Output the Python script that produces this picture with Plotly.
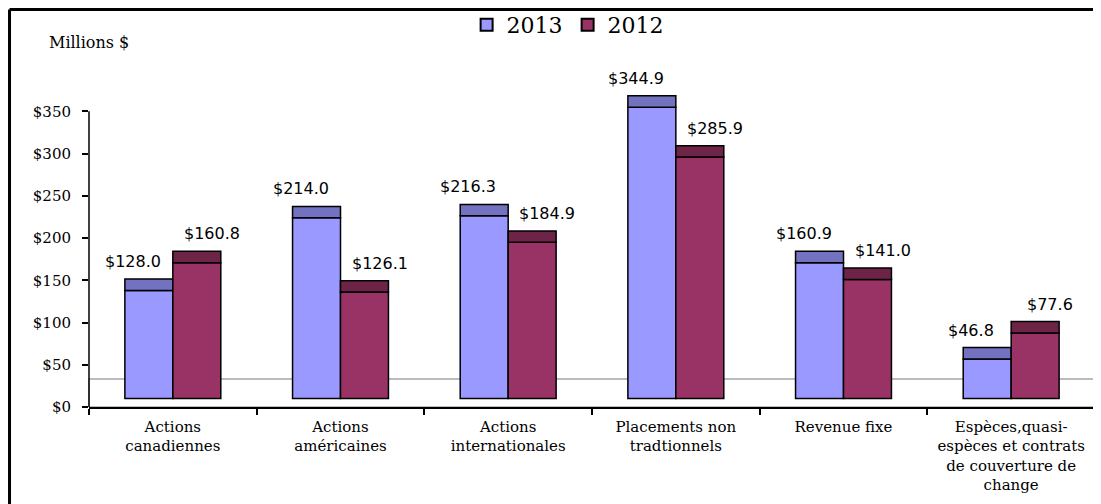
import plotly.graph_objects as go

categories = ["Actions<br>canadiennes", "Actions<br>américaines", "Actions<br>internationales",
              "Placements non<br>tradtionnels", "Revenue fixe",
              "Espèces,quasi-<br>espèces et contrats<br>de couverture de<br>change"]
values_2013 = [128.0, 214.0, 216.3, 344.9, 160.9, 46.8]
values_2012 = [160.8, 126.1, 184.9, 285.9, 141.0, 77.6]
y_tick_vals = [0, 50, 100, 150, 200, 250, 300, 350]
y_tick_text = ["$0", "$50", "$100", "$150", "$200", "$250", "$300", "$350"]

# 3D-look styling parameters (not data)
FLOOR_BASE = 10      # bars start slightly above zero (3D floor)
TOP_DEPTH = 13.5     # thickness of the shaded top face
FLOOR_DEPTH = 33

C13, C13_TOP = "#9999FF", "#7272C0"
C12, C12_TOP = "#993366", "#6E2447"
SERIF = "DejaVu Serif"

fig = go.Figure()
for name, vals, front, top, grp in [("2013", values_2013, C13, C13_TOP, "a"),
                                    ("2012", values_2012, C12, C12_TOP, "b")]:
    fig.add_trace(go.Bar(
        name=name, x=categories, y=vals, base=[FLOOR_BASE] * len(vals),
        offsetgroup=grp, marker=dict(color=front, line=dict(color="black", width=1.5)),
        cliponaxis=False, hoverinfo="skip"))
    fig.add_trace(go.Bar(
        name=name + " top", x=categories, y=[TOP_DEPTH] * len(vals),
        base=[FLOOR_BASE + v for v in vals], offsetgroup=grp, showlegend=False,
        marker=dict(color=top, line=dict(color="black", width=1.5)),
        cliponaxis=False, hoverinfo="skip"))

annotations = []
for vals, shift in [(values_2013, -40), (values_2012, 39)]:
    for cat, v in zip(categories, vals):
        annotations.append(dict(
            x=cat, y=FLOOR_BASE + v + TOP_DEPTH, xref="x", yref="y",
            text=f"${v:.1f}", showarrow=False, xshift=shift, yshift=6,
            yanchor="bottom", font=dict(family="DejaVu Sans", size=16, color="black")))

annotations.append(dict(x=-0.0417, y=1.134, xref="paper", yref="paper", text="Millions $",
                        showarrow=False, xanchor="left", yanchor="middle",
                        font=dict(family=SERIF, size=16, color="black")))

shapes = [
    # 3D floor
    dict(type="rect", xref="x domain", yref="y", x0=0, x1=1, y0=0, y1=FLOOR_DEPTH,
         line=dict(color="#A6A6A6", width=1.5), fillcolor="white", layer="below"),
    # y axis line ending at $350
    dict(type="line", xref="x domain", yref="y", x0=0, x1=0, y0=0, y1=350,
         line=dict(color="black", width=1.5)),
    # outer frame (left and top visible)
    dict(type="line", xref="paper", yref="paper", x0=-0.079, x1=-0.079, y0=1.238, y1=-0.4,
         line=dict(color="black", width=3)),
    dict(type="line", xref="paper", yref="paper", x0=-0.079, x1=1.1, y0=1.238, y1=1.238,
         line=dict(color="black", width=3)),
]

fig.update_layout(
    width=1093, height=496,
    margin=dict(l=81, r=6, t=78, b=97, autoexpand=False),
    paper_bgcolor="white", plot_bgcolor="white",
    barmode="group", bargap=0.428, bargroupgap=0,
    font=dict(family=SERIF, size=15, color="black"),
    showlegend=True,
    legend=dict(orientation="h", x=0.512, y=0.966, xref="container", yref="container",
                xanchor="center", yanchor="middle",
                font=dict(family=SERIF, size=22, color="black"), bgcolor="rgba(0,0,0,0)",
                itemsizing="constant"),
    annotations=annotations, shapes=shapes,
)
fig.update_xaxes(showline=True, linecolor="black", linewidth=1.5, ticks="outside",
                 tickson="boundaries", ticklen=6, tickcolor="black", tickwidth=1.5,
                 ticklabelstandoff=5,
                 showgrid=False, zeroline=False, tickfont=dict(family=SERIF, size=15))
fig.update_yaxes(range=[0, 380], showline=False, showgrid=False, zeroline=False,
                 tickmode="array", tickvals=y_tick_vals, ticktext=y_tick_text,
                 ticks="outside", ticklen=6, tickcolor="black", tickwidth=1.5,
                 ticklabelstandoff=8, tickfont=dict(family=SERIF, size=15))

fig.write_html("out.html")
